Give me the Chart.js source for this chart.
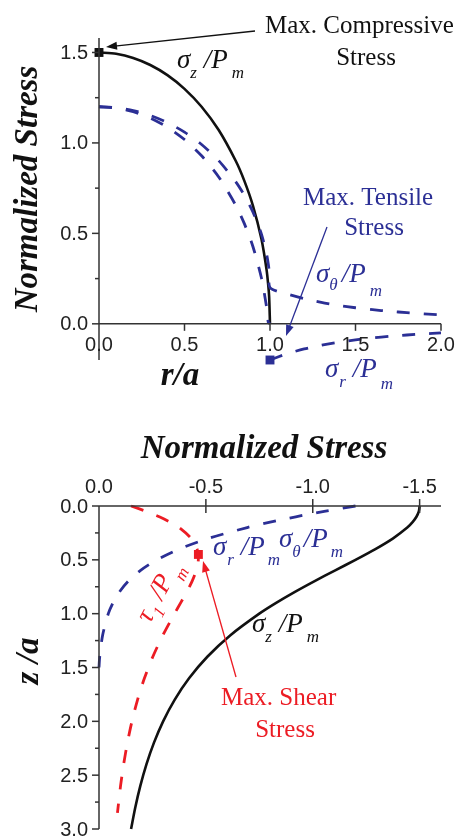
<!DOCTYPE html>
<html>
<head>
<meta charset="utf-8">
<script src="https://cdn.jsdelivr.net/npm/chart.js@4/dist/chart.umd.min.js"></script>
<style>
  html, body { margin: 0; padding: 0; background: #fff; }
  #wrap { position: relative; width: 461px; height: 836px; overflow: hidden; }
  .panel { position: absolute; left: 0; width: 461px; }
  #topPanel { top: 0; height: 400px; }
  #botPanel { top: 400px; height: 436px; }
</style>
</head>
<body>
<div id="wrap">
  <div class="panel" id="topPanel"><canvas id="surface" width="461" height="400"></canvas></div>
  <div class="panel" id="botPanel"><canvas id="depth" width="461" height="436"></canvas></div>
</div>
<script>
// ---- Surface (z = 0) stresses versus r/a ----
const rSigmaZ = [0, 0.1, 0.2, 0.3, 0.4, 0.5, 0.6, 0.7, 0.8, 0.85, 0.9, 0.95, 0.98, 0.99, 0.995, 1.0];
const sigmaZSurface = [1.5, 1.4925, 1.4697, 1.4309, 1.3748, 1.2990, 1.2, 1.0712, 0.9, 0.7902, 0.6538, 0.4684, 0.2985, 0.2116, 0.1498, 0.0];

const rInner = [0, 0.1, 0.2, 0.3, 0.4, 0.5, 0.6, 0.7, 0.8, 0.85, 0.9, 0.95, 0.98, 0.99, 1.0];
const sigmaRInner = [1.2, 1.1932, 1.1727, 1.1378, 1.0871, 1.0187, 0.9289, 0.8117, 0.655, 0.5538, 0.4274, 0.2535, 0.0919, 0.0081, 0.0];

const rOuter = [1.0, 1.1, 1.2, 1.3, 1.4, 1.5, 1.6, 1.7, 1.8, 1.9, 2.0];
const sigmaROuter = [-0.2, -0.1653, -0.1389, -0.1183, -0.102, -0.0889, -0.0781, -0.0692, -0.0617, -0.0554, -0.05];

const rTheta = [0, 0.1, 0.2, 0.3, 0.4, 0.5, 0.6, 0.7, 0.8, 0.85, 0.9, 0.95, 0.98, 0.99, 0.995, 1.0,
                1.1, 1.2, 1.3, 1.4, 1.5, 1.6, 1.7, 1.8, 1.9, 2.0];
const sigmaThetaSurface = [1.2, 1.1948, 1.1788, 1.1517, 1.1125, 1.0598, 0.9911, 0.9022, 0.785, 0.7105, 0.6188, 0.4959, 0.3857, 0.3304, 0.2917, 0.2,
                           0.1653, 0.1389, 0.1183, 0.102, 0.0889, 0.0781, 0.0692, 0.0617, 0.0554, 0.05];

const maxCompressive = { x: 0, y: 1.5 };
const maxTensile = { x: 1.0, y: -0.2 };

// ---- Stresses along the axis (r = 0) versus z/a ----
const zSigmaZ = [0, 0.05, 0.1, 0.15, 0.2, 0.3, 0.4, 0.5, 0.6, 0.7, 0.8, 0.9, 1.0, 1.2, 1.4, 1.6, 1.8, 2.0, 2.2, 2.4, 2.6, 2.8, 3.0];
const sigmaZDepth = [-1.5, -1.4963, -1.4851, -1.4670, -1.4423, -1.3761, -1.2931, -1.2, -1.1029, -1.0067, -0.9146, -0.8287, -0.75,
                     -0.6148, -0.5068, -0.4213, -0.3538, -0.3, -0.2568, -0.2219, -0.1933, -0.1697, -0.15];

const zSigmaR = [0, 0.05, 0.1, 0.15, 0.2, 0.3, 0.4, 0.5, 0.6, 0.7, 0.8, 0.9, 1.0, 1.2, 1.4, 1.5];
const sigmaRDepth = [-1.2, -1.0536, -0.9206, -0.8006, -0.6932, -0.5135, -0.3750, -0.2705, -0.1930, -0.1362, -0.0948, -0.0650, -0.0435,
                     -0.0169, -0.0033, 0.0];

const zTau = [0, 0.05, 0.1, 0.15, 0.2, 0.3, 0.4, 0.5, 0.6, 0.7, 0.8, 0.9, 1.0, 1.2, 1.4, 1.6, 1.8, 2.0, 2.2, 2.4, 2.6, 2.85];
const tauDepth = [-0.15, -0.2213, -0.2823, -0.3332, -0.3745, -0.4313, -0.4590, -0.4647, -0.4550, -0.4353, -0.4099, -0.3819, -0.3533,
                  -0.2989, -0.2517, -0.2124, -0.1803, -0.1541, -0.1328, -0.1152, -0.1008, -0.0863];

const maxShear = { x: -0.465, y: 0.45 };

// ---- Tick values ----
const surfaceXTicks = [0, 0.5, 1.0, 1.5, 2.0];
const surfaceYTicks = [0, 0.5, 1.0, 1.5];
const surfaceYMinor = [0.25, 0.75, 1.25];
const depthXTicks = [0, -0.5, -1.0, -1.5];
const depthYTicks = [0, 0.5, 1.0, 1.5, 2.0, 2.5, 3.0];
const depthYMinor = [0.25, 0.75, 1.25, 1.75, 2.25, 2.75];

// ---- Styling ----
const BLACK = '#111111';
const BLUE = '#2b2f95';
const RED = '#ec1c24';
const AXIS = '#333333';
const TICKTEXT = '#222222';
const SANS = '"Liberation Sans", Arial, sans-serif';
const SERIF = '"Liberation Serif", "Times New Roman", serif';
const DASH = [13, 14];

const pts = (xs, ys) => xs.map((x, i) => ({ x, y: ys[i] }));
const ptsSwap = (zs, vs) => zs.map((z, i) => ({ x: vs[i], y: z }));

function lineSet(data, color, dashed, width) {
  return {
    data, showLine: true, borderColor: color, backgroundColor: color,
    borderWidth: width || (dashed ? 2.8 : 2.6), borderDash: dashed ? DASH : [],
    pointRadius: 0, tension: 0.25, clip: false, borderCapStyle: 'butt'
  };
}
function markerSet(p, color) {
  return {
    data: [p], showLine: false, pointStyle: 'rect', pointRadius: 6.3,
    backgroundColor: color, borderColor: color, borderWidth: 0, clip: false
  };
}

// text made of runs: [text, font, dx, dy]
function rich(ctx, x, y, runs, color, angle) {
  ctx.save();
  ctx.translate(x, y);
  if (angle) ctx.rotate(angle);
  ctx.fillStyle = color;
  ctx.textAlign = 'left';
  ctx.textBaseline = 'alphabetic';
  let cx = 0;
  for (const [t, f, dx, dy] of runs) {
    ctx.font = f;
    cx += dx || 0;
    ctx.fillText(t, cx, dy || 0);
    cx += ctx.measureText(t).width;
  }
  ctx.restore();
}
function label(ctx, text, x, y, color, font, align) {
  ctx.save();
  ctx.font = font; ctx.fillStyle = color;
  ctx.textAlign = align || 'left'; ctx.textBaseline = 'alphabetic';
  ctx.fillText(text, x, y);
  ctx.restore();
}
function arrow(ctx, x0, y0, x1, y1, color) {
  const a = Math.atan2(y1 - y0, x1 - x0), L = 11, W = 4;
  ctx.save();
  ctx.strokeStyle = color; ctx.fillStyle = color; ctx.lineWidth = 1.3;
  ctx.beginPath();
  ctx.moveTo(x0, y0);
  ctx.lineTo(x1 - L * 0.8 * Math.cos(a), y1 - L * 0.8 * Math.sin(a));
  ctx.stroke();
  ctx.beginPath();
  ctx.moveTo(x1, y1);
  ctx.lineTo(x1 - L * Math.cos(a) + W * Math.sin(a), y1 - L * Math.sin(a) - W * Math.cos(a));
  ctx.lineTo(x1 - L * Math.cos(a) - W * Math.sin(a), y1 - L * Math.sin(a) + W * Math.cos(a));
  ctx.closePath();
  ctx.fill();
  ctx.restore();
}
function seg(ctx, x0, y0, x1, y1) {
  ctx.beginPath(); ctx.moveTo(x0, y0); ctx.lineTo(x1, y1); ctx.stroke();
}
const fmt = v => (Math.abs(v) < 1e-9 ? '0.0' : v.toFixed(1));
const greek = s => 'italic ' + s + 'px ' + SERIF;

// ---- Surface panel axes and notes ----
const surfaceDecor = {
  id: 'surfaceDecor',
  afterDraw(chart) {
    const { ctx } = chart;
    const xs = chart.scales.x, ys = chart.scales.y;
    const x0 = xs.getPixelForValue(0), y0 = ys.getPixelForValue(0);
    ctx.save();
    ctx.strokeStyle = AXIS; ctx.lineWidth = 1.5;
    // axis lines
    seg(ctx, x0, ys.getPixelForValue(ys.max), x0, ys.getPixelForValue(ys.min));
    seg(ctx, x0, y0, xs.getPixelForValue(xs.max), y0);
    // ticks
    surfaceYTicks.forEach(v => { const p = ys.getPixelForValue(v); seg(ctx, x0 - 7, p, x0, p); });
    surfaceYMinor.forEach(v => { const p = ys.getPixelForValue(v); seg(ctx, x0 - 4, p, x0, p); });
    surfaceXTicks.forEach(v => { if (v === 0) return; const p = xs.getPixelForValue(v); seg(ctx, p, y0, p, y0 + 7); });
    // tick labels
    ctx.fillStyle = TICKTEXT; ctx.font = '20px ' + SANS;
    ctx.textAlign = 'right'; ctx.textBaseline = 'middle';
    surfaceYTicks.forEach(v => ctx.fillText(fmt(v), x0 - 11, ys.getPixelForValue(v) + 1));
    ctx.textAlign = 'center';
    surfaceXTicks.forEach(v => ctx.fillText(fmt(v), xs.getPixelForValue(v), y0 + 22));
    ctx.restore();

    // axis titles
    ctx.save();
    ctx.translate(37, 189); ctx.rotate(-Math.PI / 2);
    label(ctx, 'Normalized Stress', 0, 0, BLACK, 'bold italic 33px ' + SERIF, 'center');
    ctx.restore();
    label(ctx, 'r/a', 180, 385, BLACK, 'bold italic 33px ' + SERIF, 'center');

    // notes
    const note = '25px ' + SERIF;
    label(ctx, 'Max. Compressive', 265, 33, BLACK, note);
    label(ctx, 'Stress', 366, 65, BLACK, note, 'center');
    arrow(ctx, 255, 31, 106, 47, BLACK);
    label(ctx, 'Max. Tensile', 303, 205, BLUE, note);
    label(ctx, 'Stress', 374, 235, BLUE, note, 'center');
    arrow(ctx, 327, 227, 286, 336, BLUE);

    rich(ctx, 177, 68, [['σ', greek(27)], ['z', greek(17), 0, 10], [' /P', greek(27)], ['m', greek(17), 4, 10]], BLACK);
    rich(ctx, 316, 282, [['σ', greek(27)], ['θ', greek(17), 0, 8], ['/P', greek(27), 4], ['m', greek(17), 4, 14]], BLUE);
    rich(ctx, 325, 377, [['σ', greek(27)], ['r', greek(17), 1, 10], [' /P', greek(27)], ['m', greek(17), 4, 12]], BLUE);
  }
};

// ---- Depth panel axes and notes ----
const depthDecor = {
  id: 'depthDecor',
  afterDraw(chart) {
    const { ctx } = chart;
    const xs = chart.scales.x, ys = chart.scales.y;
    const x0 = xs.getPixelForValue(0), y0 = ys.getPixelForValue(0);
    ctx.save();
    ctx.strokeStyle = AXIS; ctx.lineWidth = 1.5;
    seg(ctx, x0, y0, x0, ys.getPixelForValue(ys.max));
    seg(ctx, x0, y0, xs.getPixelForValue(xs.min), y0);
    depthYTicks.forEach(v => { const p = ys.getPixelForValue(v); seg(ctx, x0 - 7, p, x0, p); });
    depthYMinor.forEach(v => { const p = ys.getPixelForValue(v); seg(ctx, x0 - 4, p, x0, p); });
    depthXTicks.forEach(v => { if (v === 0) return; const p = xs.getPixelForValue(v); seg(ctx, p, y0 - 7, p, y0 + 7); });
    ctx.fillStyle = TICKTEXT; ctx.font = '20px ' + SANS;
    ctx.textAlign = 'right'; ctx.textBaseline = 'middle';
    depthYTicks.forEach(v => ctx.fillText(fmt(v), x0 - 11, ys.getPixelForValue(v) + 1));
    ctx.textAlign = 'center';
    depthXTicks.forEach(v => ctx.fillText(fmt(v), xs.getPixelForValue(v), y0 - 19));
    ctx.restore();

    label(ctx, 'Normalized Stress', 264, 58, BLACK, 'bold italic 33px ' + SERIF, 'center');
    ctx.save();
    ctx.translate(38, 261); ctx.rotate(-Math.PI / 2);
    label(ctx, 'z /a', 0, 0, BLACK, 'bold italic 33px ' + SERIF, 'center');
    ctx.restore();

    const note = '25px ' + SERIF;
    label(ctx, 'Max. Shear', 221, 305, RED, note);
    label(ctx, 'Stress', 285, 337, RED, note, 'center');
    arrow(ctx, 236, 277, 203, 161, RED);

    rich(ctx, 213, 155, [['σ', greek(27)], ['r', greek(17), 1, 10], [' /P', greek(27)], ['m', greek(17), 3, 10]], BLUE);
    rich(ctx, 279, 147, [['σ', greek(27)], ['θ', greek(17), 0, 10], ['/P', greek(27), 3], ['m', greek(17), 3, 10]], BLUE);
    rich(ctx, 252, 232, [['σ', greek(27)], ['z', greek(17), 0, 10], [' /P', greek(27)], ['m', greek(17), 4, 10]], BLACK);
    rich(ctx, 150, 224, [['τ', greek(27)], ['1', greek(17), 1, 8], [' /P', greek(27)], ['m', greek(17), 3, 10]], RED, -62 * Math.PI / 180);
  }
};

const baseOptions = {
  responsive: false, animation: false, events: [],
  plugins: { legend: { display: false }, tooltip: { enabled: false } }
};

new Chart(document.getElementById('surface'), {
  type: 'scatter',
  data: {
    datasets: [
      lineSet(pts(rTheta, sigmaThetaSurface), BLUE, true),
      lineSet(pts(rInner, sigmaRInner), BLUE, true),
      lineSet(pts(rOuter, sigmaROuter), BLUE, true),
      lineSet(pts(rSigmaZ, sigmaZSurface), BLACK, false),
      markerSet(maxCompressive, BLACK),
      markerSet(maxTensile, BLUE)
    ]
  },
  options: Object.assign({}, baseOptions, {
    layout: { padding: { left: 99, right: 20, top: 38, bottom: 40 } },
    scales: {
      x: { type: 'linear', min: 0, max: 2, display: false },
      y: { type: 'linear', min: -0.2, max: 1.58, display: false }
    }
  }),
  plugins: [surfaceDecor]
});

new Chart(document.getElementById('depth'), {
  type: 'scatter',
  data: {
    datasets: [
      lineSet(ptsSwap(zSigmaR, sigmaRDepth), BLUE, true),
      lineSet(ptsSwap(zTau, tauDepth), RED, true),
      lineSet(ptsSwap(zSigmaZ, sigmaZDepth), BLACK, false),
      markerSet(maxShear, RED)
    ]
  },
  options: Object.assign({}, baseOptions, {
    layout: { padding: { left: 99, right: 20, top: 106, bottom: 7 } },
    scales: {
      x: { type: 'linear', min: -1.6, max: 0, reverse: true, display: false },
      y: { type: 'linear', min: 0, max: 3, reverse: true, display: false }
    }
  }),
  plugins: [depthDecor]
});
</script>
</body>
</html>
